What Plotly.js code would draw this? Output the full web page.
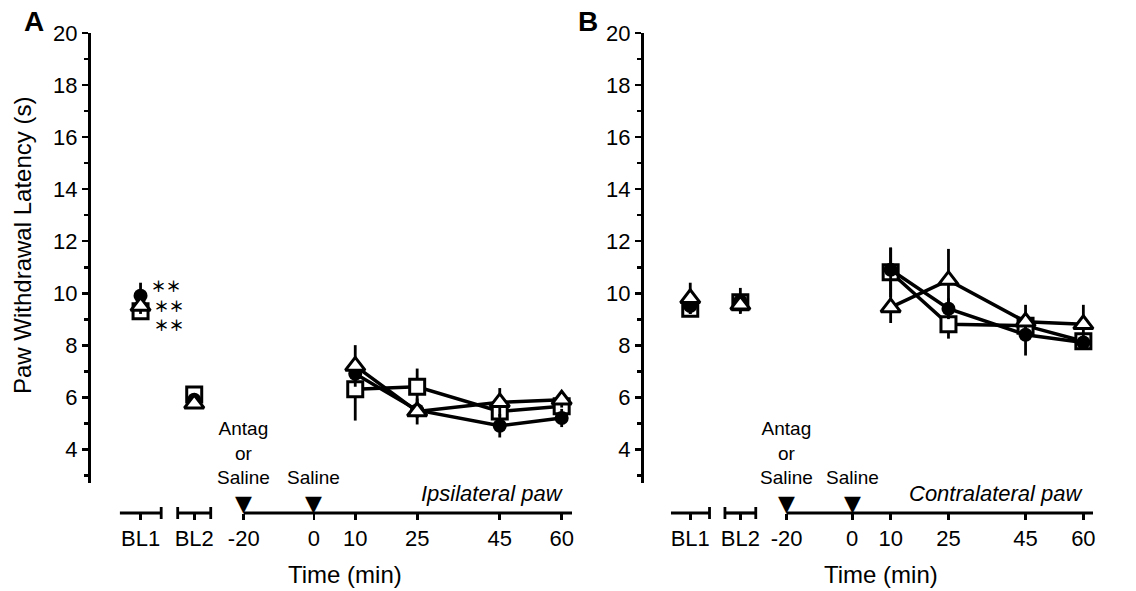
<!DOCTYPE html>
<html>
<head>
<meta charset="utf-8">
<script src="https://cdn.plot.ly/plotly-3.0.1.min.js"></script>
<style>html,body{margin:0;padding:0;background:#fff}</style>
</head>
<body>
<div id="chart" style="width:1136px;height:591px"></div>
<script>
// ---- tick positions / labels ----
const xTickPos = [-42, -29, -17, 0, 10, 25, 45, 60];
const xTickText = ['BL1', 'BL2', '-20', '0', '10', '25', '45', '60'];
const baseX = [-42, -29];          // BL1, BL2
const postX = [10, 25, 45, 60];    // minutes after saline
const injectX = [-17, 0];          // "-20" and "0" injection arrows
const yTicks = [4, 6, 8, 10, 12, 14, 16, 18, 20];
const yMinor = [3, 5, 7, 9, 11, 13, 15, 17, 19];
const axisSegs = [[-47, -37], [-33, -25], [-17, 62.5]];
const capPos = [-37, -33, -25];

// ---- Panel A: ipsilateral paw ----
const ipsiCircleBase = [9.9, 5.9];   const ipsiCircleBaseErr = [0.5, 0.2];
const ipsiCirclePost = [6.9, 5.5, 4.9, 5.2]; const ipsiCirclePostErr = [0.3, 0.3, 0.45, 0.35];
const ipsiSquareBase = [9.3, 6.1];   const ipsiSquareBaseErr = [0.2, 0.2];
const ipsiSquarePost = [6.3, 6.4, 5.45, 5.65]; const ipsiSquarePostErr = [1.2, 0.7, 0.3, 0.2];
const ipsiTriBase = [9.5, 5.75];     const ipsiTriBaseErr = [0.3, 0.2];
const ipsiTriPost = [7.2, 5.45, 5.8, 5.9]; const ipsiTriPostErr = [0.8, 0.5, 0.55, 0.3];

// ---- Panel B: contralateral paw ----
const contraCircleBase = [9.5, 9.7]; const contraCircleBaseErr = [0.3, 0.5];
const contraCirclePost = [10.9, 9.4, 8.4, 8.1]; const contraCirclePostErr = [0.85, 0.4, 0.8, 0.2];
const contraSquareBase = [9.4, 9.65]; const contraSquareBaseErr = [0.3, 0.3];
const contraSquarePost = [10.8, 8.8, 8.75, 8.15]; const contraSquarePostErr = [0.95, 0.55, 0.3, 0.2];
const contraTriBase = [9.8, 9.55];   const contraTriBaseErr = [0.6, 0.3];
const contraTriPost = [9.45, 10.5, 8.9, 8.8]; const contraTriPostErr = [0.6, 1.2, 0.65, 0.75];

const W = 1136, H = 591;
const px = v => v / W;
const py = v => 1 - v / H;
const AXIS_Y = py(513);

const styles = {
  circle: {symbol: 'circle', size: 14, color: '#000', line: {color: '#000', width: 0}},
  square: {symbol: 'square', size: 15, color: '#fff', line: {color: '#000', width: 3}},
  tri: {symbol: 'triangle-up', size: 17, color: '#fff', line: {color: '#000', width: 3}}
};

function err(arr) {
  return {type: 'data', array: arr, visible: true, color: '#000', thickness: 2.8, width: 0};
}
function series(xa, ya, style, base, baseErr, post, postErr) {
  return [
    {x: baseX, y: base, xaxis: xa, yaxis: ya, mode: 'markers', type: 'scatter',
     marker: style, error_y: err(baseErr), hoverinfo: 'skip', cliponaxis: false},
    {x: postX, y: post, xaxis: xa, yaxis: ya, mode: 'lines+markers', type: 'scatter',
     line: {color: '#000', width: 3.5}, marker: style, error_y: err(postErr), hoverinfo: 'skip', cliponaxis: false}
  ];
}

const traces = [].concat(
  series('x', 'y', styles.square, ipsiSquareBase, ipsiSquareBaseErr, ipsiSquarePost, ipsiSquarePostErr),
  series('x', 'y', styles.circle, ipsiCircleBase, ipsiCircleBaseErr, ipsiCirclePost, ipsiCirclePostErr),
  series('x', 'y', styles.tri, ipsiTriBase, ipsiTriBaseErr, ipsiTriPost, ipsiTriPostErr),
  series('x2', 'y2', styles.square, contraSquareBase, contraSquareBaseErr, contraSquarePost, contraSquarePostErr),
  series('x2', 'y2', styles.circle, contraCircleBase, contraCircleBaseErr, contraCirclePost, contraCirclePostErr),
  series('x2', 'y2', styles.tri, contraTriBase, contraTriBaseErr, contraTriPost, contraTriPostErr)
);

function xAxis(domain) {
  return {domain: domain, range: [-54, 62.5], anchor: 'free', position: AXIS_Y,
    showline: false, zeroline: false, showgrid: false,
    tickmode: 'array', tickvals: xTickPos, ticktext: xTickText,
    ticks: 'outside', ticklen: 6, tickwidth: 2.8, tickcolor: '#000',
    tickfont: {size: 22, color: '#000'}, fixedrange: true};
}
function yAxis(anchor) {
  return {domain: [py(483), py(33)], range: [2.7, 20], anchor: anchor,
    showline: true, linewidth: 3.2, linecolor: '#000', zeroline: false, showgrid: false,
    tickmode: 'array', tickvals: yTicks, ticks: 'outside', ticklen: 6, tickwidth: 2.8, tickcolor: '#000',
    tickfont: {size: 22, color: '#000'},
    minor: {tickmode: 'array', tickvals: yMinor, ticks: 'outside', ticklen: 4, tickwidth: 2.8, tickcolor: '#000', showgrid: false},
    fixedrange: true};
}

const shapes = [];
['x', 'x2'].forEach(xr => {
  axisSegs.forEach(s => shapes.push({type: 'line', xref: xr, yref: 'paper', x0: s[0], x1: s[1], y0: AXIS_Y, y1: AXIS_Y,
    line: {color: '#000', width: 3.2}}));
  capPos.forEach(c => shapes.push({type: 'line', xref: xr, yref: 'paper', x0: c, x1: c,
    y0: AXIS_Y - 6 / H, y1: AXIS_Y + 6 / H, line: {color: '#000', width: 2.8}}));
});

const ann = (o) => Object.assign({showarrow: false, xanchor: 'center', yanchor: 'middle'}, o);
const annotations = [
  ann({text: '<b>A</b>', xref: 'paper', yref: 'paper', x: px(34), y: py(22), font: {size: 28}}),
  ann({text: '<b>B</b>', xref: 'paper', yref: 'paper', x: px(588), y: py(22), font: {size: 28}}),
  ann({text: 'Paw Withdrawal Latency (s)', xref: 'paper', yref: 'paper', x: px(22), y: py(246), textangle: -90, font: {size: 24}}),
  ann({text: 'Time (min)', xref: 'paper', yref: 'paper', x: px(345), y: py(574), font: {size: 24}}),
  ann({text: 'Time (min)', xref: 'paper', yref: 'paper', x: px(881), y: py(574), font: {size: 24}}),
  ann({text: 'Antag<br>or<br>Saline', xref: 'x', yref: 'paper', x: injectX[0], y: py(453), font: {size: 19}}),
  ann({text: 'Saline', xref: 'x', yref: 'paper', x: injectX[1], y: py(477), font: {size: 19}}),
  ann({text: 'Antag<br>or<br>Saline', xref: 'x2', yref: 'paper', x: injectX[0], y: py(453), font: {size: 19}}),
  ann({text: 'Saline', xref: 'x2', yref: 'paper', x: injectX[1], y: py(477), font: {size: 19}}),
  ann({text: '<i>Ipsilateral paw</i>', xref: 'paper', yref: 'paper', x: px(566), y: py(493), xanchor: 'right', font: {size: 22}}),
  ann({text: '<i>Contralateral paw</i>', xref: 'paper', yref: 'paper', x: px(1086), y: py(493), xanchor: 'right', font: {size: 22}}),
  ann({text: '＊＊<br>\u2009＊＊<br>\u2009＊＊', xref: 'paper', yref: 'paper', x: px(149), y: py(305), xanchor: 'left', align: 'left',
       font: {size: 15, weight: 'bold', color: '#000', family: '"Noto Sans CJK JP", "DejaVu Sans", sans-serif'}})
];
// injection arrowheads
['x', 'x2'].forEach(xr => injectX.forEach(v => annotations.push(
  ann({text: '▼', xref: xr, yref: 'paper', x: v, y: py(503), font: {size: 22, family: '"DejaVu Sans", sans-serif'}})
)));

const layout = {
  width: W, height: H, margin: {l: 0, r: 0, t: 0, b: 0},
  paper_bgcolor: '#fff', plot_bgcolor: '#fff', showlegend: false,
  font: {family: '"Liberation Sans", Arial, Helvetica, sans-serif', color: '#000', size: 20},
  xaxis: xAxis([px(91), px(572)]),
  yaxis: yAxis('x'),
  xaxis2: xAxis([px(644), px(1093)]),
  yaxis2: yAxis('x2'),
  shapes: shapes,
  annotations: annotations
};

Plotly.newPlot('chart', traces, layout, {staticPlot: true, displayModeBar: false});
</script>
</body>
</html>
